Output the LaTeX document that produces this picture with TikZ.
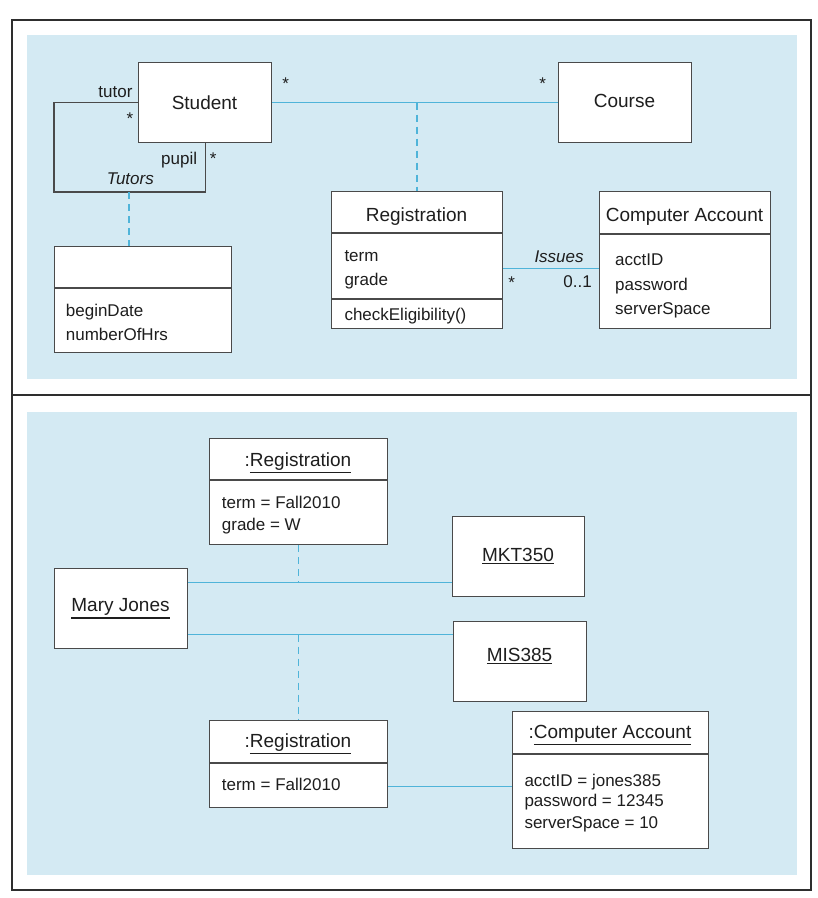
\documentclass[tikz,border=0pt]{standalone}
\usepackage{fontspec}
\setmainfont{Liberation Sans}
\usetikzlibrary{calc}
\definecolor{bgblue}{HTML}{D4EAF3}
\definecolor{linecyan}{HTML}{4FB4D9}
\definecolor{boxgray}{HTML}{4A4A4A}
\definecolor{framegray}{HTML}{2E2E2E}
\definecolor{txt}{HTML}{1E1E1E}
\newcommand\titlefont{\fontsize{19}{22}\selectfont}
\newcommand\attrfont{\fontsize{17}{20}\selectfont}
\newcommand\myul[1]{\setbox0\hbox{#1}\leavevmode\rlap{\color{txt}\vrule height \dimexpr-\dp0-1.6pt\relax depth \dimexpr\dp0+2.9pt\relax width \wd0}\box0}
\begin{document}
\begin{tikzpicture}[x=1pt,y=-1pt,
  box/.style={draw=boxgray, line width=1.3pt, fill=white, inner sep=0, anchor=north west},
  divider/.style={draw=boxgray, line width=1.3pt},
  assoc/.style={draw=linecyan, line width=1.5pt},
  selfassoc/.style={draw=boxgray, line width=1.3pt},
  dashline/.style={draw=linecyan, line width=1.5pt, dash pattern=on 7pt off 5pt},
  frame/.style={draw=framegray, line width=2.2pt},
  ttl/.style={inner sep=0, text=txt, font=\titlefont, anchor=base},
  attr/.style={inner sep=0, text=txt, font=\attrfont, anchor=base west},
  lbl/.style={inner sep=0, text=txt, font=\attrfont},
]
\useasboundingbox (0,0) rectangle (818,898);
% frames and backgrounds
\fill[white] (0,0) rectangle (818,898);
\fill[bgblue] (27,35) rectangle (797,379);
\fill[bgblue] (27,412) rectangle (797,875);
\draw[frame] (12,20) rectangle (811,395);
\draw[frame] (12,395) rectangle (811,890);

% ---------- top: class diagram ----------
\node[box, minimum width=133, minimum height=80] (student) at (138,62) {};
\node[box, minimum width=133, minimum height=80] (course) at (558,62) {};
\node[box, minimum width=171, minimum height=137] (reg) at (331,191) {};
\node[box, minimum width=171, minimum height=137] (ca) at (599,191) {};
\node[box, minimum width=177, minimum height=106] (acls) at (54,246) {};

\draw[divider] ($(reg.north west)+(0,42)$) -- ($(reg.north east)+(0,42)$);
\draw[divider] ($(reg.north west)+(0,108)$) -- ($(reg.north east)+(0,108)$);
\draw[divider] ($(ca.north west)+(0,43)$) -- ($(ca.north east)+(0,43)$);
\draw[divider] ($(acls.north west)+(0,42)$) -- ($(acls.north east)+(0,42)$);

\node[ttl] (studentT) at (204.5,109) {Student};
\node[ttl] (courseT) at (624.5,107.3) {Course};
\node[ttl] (regT) at (416.5,221.7) {Registration};
\node[attr] (regA1) at (344.3,261.7) {term};
\node[attr] (regA2) at (344.3,285) {grade};
\node[attr] (regM) at (344.3,320) {checkEligibility()};
\node[ttl] (caT) at (684.5,221.7) {Computer Account};
\node[attr] (caA1) at (615,265.7) {acctID};
\node[attr] (caA2) at (615,290.2) {password};
\node[attr] (caA3) at (615,314.7) {serverSpace};
\node[attr] (acA1) at (65.7,316) {beginDate};
\node[attr] (acA2) at (65.7,340.7) {numberOfHrs};

% connectors
\draw[assoc] (student.east) -- (course.west);
\draw[dashline] (reg.north |- student.east) -- (reg.north);
\coordinate (tloop) at (54,192);
\draw[selfassoc] (student.west) -| (tloop) -| (student.south);
\coordinate (tmid) at (129,192);
\draw[dashline] (tmid) -- (tmid |- acls.north);
\coordinate (iss) at ($(reg.east)+(0,8.5)$);
\draw[assoc] (iss) -- (iss -| ca.west);

% labels
\node[lbl, anchor=base east] (tutorL) at (132.7,97.7) {tutor};
\node[lbl, anchor=base east] (pupilL) at (197.3,164.3) {pupil};
\node[lbl, anchor=base west] (tutorsL) at (106.7,184.3) {\itshape Tutors};
\node[lbl, anchor=base west] (issuesL) at (534.3,262.3) {\itshape Issues};
\node[lbl, anchor=base east] (multL) at (592,287.3) {0..1};
\node[lbl, anchor=base] (st1) at (285.7,89.8) {*};
\node[lbl, anchor=base] (st2) at (542.7,89.8) {*};
\node[lbl, anchor=base] (st3) at (130,124.8) {*};
\node[lbl, anchor=base] (st4) at (213.3,164) {*};
\node[lbl, anchor=base] (st5) at (511.7,288.8) {*};

% ---------- bottom: object diagram ----------
\node[box, minimum width=178, minimum height=106] (r1) at (209,438) {};
\node[box, minimum width=133, minimum height=80] (mj) at (54,568) {};
\node[box, minimum width=132, minimum height=80] (mkt) at (452,516) {};
\node[box, minimum width=133, minimum height=80] (mis) at (453,621) {};
\node[box, minimum width=178, minimum height=87] (r2) at (209,720) {};
\node[box, minimum width=196, minimum height=137] (ca2) at (512,711) {};

\draw[divider] ($(r1.north west)+(0,42)$) -- ($(r1.north east)+(0,42)$);
\draw[divider] ($(r2.north west)+(0,43)$) -- ($(r2.north east)+(0,43)$);
\draw[divider] ($(ca2.north west)+(0,43)$) -- ($(ca2.north east)+(0,43)$);

\node[ttl] (r1T) at (298,466) {:\myul{Registration}};
\node[attr] (r1A1) at (221.7,508.3) {term = Fall2010};
\node[attr] (r1A2) at (221.7,530) {grade = W};
\node[ttl] (mjT) at (120.5,611.7) {\myul{Mary Jones}};
\node[ttl] (mktT) at (518,561) {\myul{MKT350}};
\node[ttl] (misT) at (519.5,661) {\myul{MIS385}};
\node[ttl] (r2T) at (298,747.3) {:\myul{Registration}};
\node[attr] (r2A1) at (221.7,790) {term = Fall2010};
\node[ttl] (ca2T) at (610,738.3) {:\myul{Computer Account}};
\node[attr] (ca2A1) at (524.3,786) {acctID = jones385};
\node[attr] (ca2A2) at (524.3,806.7) {password = 12345};
\node[attr] (ca2A3) at (524.3,828.3) {serverSpace = 10};

\coordinate (l1) at ($(mj.east)+(0,-26)$);
\coordinate (l2) at ($(mj.east)+(0,26)$);
\draw[assoc] (l1) -- (l1 -| mkt.west);
\draw[assoc] (l2) -- (l2 -| mis.west);
\draw[dashline] (r1.south) -- (r1.south |- l1);
\draw[dashline] (r2.north |- l2) -- (r2.north);
\coordinate (l3) at ($(ca2.west)+(0,6.5)$);
\draw[assoc] (l3 -| r2.east) -- (l3);
\end{tikzpicture}
\end{document}
